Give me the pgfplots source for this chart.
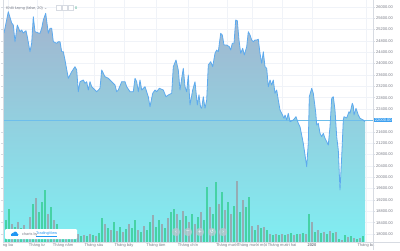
\documentclass[border=0pt]{standalone}
\usepackage{pgfplots}
\pgfplotsset{compat=1.18}
\usepackage{fontspec}
\setmainfont{Liberation Sans}
\newfontfamily\dejavu{DejaVu Sans}
\definecolor{fillTop}{RGB}{163,180,206}
\definecolor{fillBot}{RGB}{128,238,242}
\definecolor{lineCol}{RGB}{93,170,238}
\definecolor{priceLine}{RGB}{110,190,235}
\definecolor{priceBox}{RGB}{60,160,240}
\definecolor{volGreen}{RGB}{70,210,165}
\definecolor{volGray}{RGB}{150,172,180}
\definecolor{gridCol}{RGB}{240,243,248}
\definecolor{borderCol}{RGB}{215,219,226}
\definecolor{labCol}{RGB}{120,123,134}
\definecolor{tvBlue}{RGB}{33,150,243}
\definecolor{btnCol}{RGB}{190,200,210}
\begin{document}
\begin{tikzpicture}[x=1pt,y=1pt]
\begin{axis}[
  at={(3pt,8pt)}, anchor=south west,
  scale only axis, width=370pt, height=242pt,
  xmin=3, xmax=373, ymin=17720, ymax=26236,
  enlargelimits=false,
  axis line style={draw=none},
  grid=major, major grid style={draw=gridCol, line width=0.4pt},
  scaled y ticks=false, scaled x ticks=false,
  /pgf/number format/fixed, /pgf/number format/fixed zerofill,
  /pgf/number format/precision=2, /pgf/number format/1000 sep={},
  /pgf/number format/assume math mode=true,
  ytick={18000,18400,18800,19200,19600,20000,20400,20800,21200,21600,22400,22800,23200,23600,24000,24400,24800,25200,25600,26000},
  yticklabel pos=right,
  tick align=outside, major tick length=2pt,
  ytick style={draw=borderCol, line width=0.4pt},
  yticklabel style={font=\fontsize{4}{5}\selectfont, text=labCol, inner sep=1pt},
  extra y ticks={22000},
  extra y tick style={grid=none, ytick style={draw=none},
    yticklabel style={fill=priceBox, text=white, inner sep=0.7pt, xshift=-1pt}},
  xtick={8,37,63,94,124,156,188,227,252,282,312,366},
  xticklabels={ng ba,Tháng tư,Tháng năm,Tháng sáu,Tháng bảy,Tháng tám,Tháng chín,Tháng mười,Tháng mười một,Tháng mười hai,\textbf{2020},Tháng ba},
  xtick style={draw=none},
  xticklabel style={font=\fontsize{4}{5}\selectfont, text=labCol, inner sep=0.5pt, yshift=1pt},
]
\addplot[draw=none, top color=fillTop, bottom color=fillBot] coordinates {
(4,17720)
(4,25075) (8.3,25824) (11.7,25427) (13.3,25356) (15,24769) (17.3,25356) (20,25121) (21.7,25180) (23.3,25075) (26,25156) (27.3,24945) (30,24417) (31.7,24723) (33.3,25648) (35,25121) (38.3,25075) (40,25064) (41.7,25240) (43.3,25532) (45.7,25768) (48.3,25064) (50,25240) (51.7,25240) (53.3,24769) (56.7,24712) (58.3,24769) (60,24769) (61.7,24417) (63.3,24417) (65,24125) (68.3,23481) (71.7,23713) (75,23889) (76.7,23773) (78.3,23009) (80,23361) (83.3,23421) (85,23305) (86.7,23361) (88.3,23069) (90,23361) (91.7,23185) (93.3,23129) (96.7,23009) (100,23129) (101.7,23773) (105,23537) (108.3,23481) (111.7,23361) (115,23245) (116.7,23009) (118.3,23069) (121.7,23361) (125,23361) (126.7,23185) (130,23009) (133.3,23009) (135,23481) (136.7,23361) (138.3,23009) (140,23421) (141.7,23069) (145,23185) (148.3,22833) (150,22481) (152.7,22953) (155,23069) (156.7,23009) (159.3,23129) (163.3,23069) (166,22833) (168.3,22893) (171.7,22953) (173.3,23889) (176,24125) (178.3,23773) (180,23069) (181.7,23481) (183.3,23833) (185,23185) (186.7,23009) (188.3,23597) (190,22541) (192.7,23069) (195,23361) (197.3,22541) (199,22900) (200.5,22481) (201.7,22425) (203.3,22833) (205,22425) (206.7,22717) (208.3,23949) (210.7,24065) (212.7,23889) (215,24360) (216.7,24476) (218.3,24417) (220.7,25064) (222.3,25004) (224,24652) (226.7,24652) (229.3,24593) (230.7,24476) (232.3,24712) (234,24712) (235.7,25532) (237.3,25508) (239,24828) (240.7,24360) (242.7,24536) (244.3,24301) (246.7,24593) (248.3,25121) (250,25004) (251.7,24828) (253.3,24769) (255,24828) (256.7,24828) (258.3,24853) (260,24360) (261.7,24008) (263.3,24417) (265,23889) (266.7,23833) (268.3,23185) (270,23421) (271.7,23245) (273.3,23421) (275,22953) (276.7,23069) (278.3,22717) (280,22365) (281.7,22249) (284,22073) (285,22189) (286.7,22013) (288.3,22249) (290,21953) (293.3,22013) (296,22129) (298.3,21897) (300,21777) (303.3,21193) (306.7,20370) (308.3,21204) (309.3,22833) (311.7,23129) (313.3,22953) (315,22481) (315.8,22249) (316.7,21837) (318.3,21897) (320,21545) (321.7,21425) (323.3,21545) (325,21369) (326.7,21250) (328.3,21133) (330,21777) (331.7,22777) (333.3,22833) (335,22365) (336.7,21425) (338.3,20957) (340,19550) (341.7,20722) (343.3,22013) (344,22129) (346.7,22084) (349,22305) (350,22249) (352.3,22601) (353.3,22506) (354,22189) (356,22425) (358.3,22189) (360,22073) (363.3,22013) (365,21953)
(365,17720)} -- cycle;
\end{axis}
\begin{axis}[
  at={(3pt,8pt)}, anchor=south west,
  scale only axis, width=370pt, height=242pt,
  xmin=3, xmax=373, ymin=0, ymax=242,
  enlargelimits=false, hide axis,
]
\addplot[ybar, bar width=1.6pt, bar shift=0pt, fill=volGreen, draw=none] coordinates {
(6,22) (9,33) (15,15) (21,14) (27,12) (33,38) (39,30) (42,40) (45,52) (51,35) (57,18) (63,10) (69,9) (75,7) (81,6) (87,6) (93,7) (99,9) (102,24) (108,14) (114,20) (120,15) (126,13) (132,14) (135,22) (141,10) (147,12) (150,20) (156,15) (159,22) (165,14) (171,30) (174,33) (180,22) (186,26) (192,28) (198,25) (204,22) (207,55) (213,28) (216,60) (222,50) (228,40) (234,36) (240,30) (246,35) (249,45) (255,12) (261,14) (267,12) (273,7) (279,7) (285,7) (291,9) (297,8) (303,9) (309,28) (315,10) (321,9) (327,8) (333,9) (339,3) (345,7) (351,6) (357,3) (363,6)};
\addplot[ybar, bar width=1.6pt, bar shift=0pt, fill=volGray, draw=none] coordinates {
(12,18) (18,20) (24,17) (30,25) (36,44) (48,28) (54,22) (60,12) (66,13) (72,11) (78,8) (84,7) (90,8) (96,6) (105,18) (111,12) (117,11) (123,10) (129,18) (138,12) (144,16) (153,27) (162,18) (168,24) (177,28) (183,31) (189,20) (195,18) (201,30) (210,35) (219,38) (225,32) (231,28) (237,61) (243,42) (252,16) (258,17) (264,15) (270,8) (276,8) (282,8) (288,8) (294,7) (300,8) (306,8) (312,20) (318,12) (324,10) (330,11) (336,10) (342,2) (348,5) (354,4) (360,4)};
\end{axis}
\begin{axis}[
  at={(3pt,8pt)}, anchor=south west,
  scale only axis, width=370pt, height=242pt,
  xmin=3, xmax=373, ymin=17720, ymax=26236,
  enlargelimits=false, hide axis,
]
\addplot[priceLine, line width=0.5pt] coordinates {(3,22000) (373,22000)};
\addplot[lineCol, line width=0.8pt, line join=round] coordinates {
(4,25075) (8.3,25824) (11.7,25427) (13.3,25356) (15,24769) (17.3,25356) (20,25121) (21.7,25180) (23.3,25075) (26,25156) (27.3,24945) (30,24417) (31.7,24723) (33.3,25648) (35,25121) (38.3,25075) (40,25064) (41.7,25240) (43.3,25532) (45.7,25768) (48.3,25064) (50,25240) (51.7,25240) (53.3,24769) (56.7,24712) (58.3,24769) (60,24769) (61.7,24417) (63.3,24417) (65,24125) (68.3,23481) (71.7,23713) (75,23889) (76.7,23773) (78.3,23009) (80,23361) (83.3,23421) (85,23305) (86.7,23361) (88.3,23069) (90,23361) (91.7,23185) (93.3,23129) (96.7,23009) (100,23129) (101.7,23773) (105,23537) (108.3,23481) (111.7,23361) (115,23245) (116.7,23009) (118.3,23069) (121.7,23361) (125,23361) (126.7,23185) (130,23009) (133.3,23009) (135,23481) (136.7,23361) (138.3,23009) (140,23421) (141.7,23069) (145,23185) (148.3,22833) (150,22481) (152.7,22953) (155,23069) (156.7,23009) (159.3,23129) (163.3,23069) (166,22833) (168.3,22893) (171.7,22953) (173.3,23889) (176,24125) (178.3,23773) (180,23069) (181.7,23481) (183.3,23833) (185,23185) (186.7,23009) (188.3,23597) (190,22541) (192.7,23069) (195,23361) (197.3,22541) (199,22900) (200.5,22481) (201.7,22425) (203.3,22833) (205,22425) (206.7,22717) (208.3,23949) (210.7,24065) (212.7,23889) (215,24360) (216.7,24476) (218.3,24417) (220.7,25064) (222.3,25004) (224,24652) (226.7,24652) (229.3,24593) (230.7,24476) (232.3,24712) (234,24712) (235.7,25532) (237.3,25508) (239,24828) (240.7,24360) (242.7,24536) (244.3,24301) (246.7,24593) (248.3,25121) (250,25004) (251.7,24828) (253.3,24769) (255,24828) (256.7,24828) (258.3,24853) (260,24360) (261.7,24008) (263.3,24417) (265,23889) (266.7,23833) (268.3,23185) (270,23421) (271.7,23245) (273.3,23421) (275,22953) (276.7,23069) (278.3,22717) (280,22365) (281.7,22249) (284,22073) (285,22189) (286.7,22013) (288.3,22249) (290,21953) (293.3,22013) (296,22129) (298.3,21897) (300,21777) (303.3,21193) (306.7,20370) (308.3,21204) (309.3,22833) (311.7,23129) (313.3,22953) (315,22481) (315.8,22249) (316.7,21837) (318.3,21897) (320,21545) (321.7,21425) (323.3,21545) (325,21369) (326.7,21250) (328.3,21133) (330,21777) (331.7,22777) (333.3,22833) (335,22365) (336.7,21425) (338.3,20957) (340,19550) (341.7,20722) (343.3,22013) (344,22129) (346.7,22084) (349,22305) (350,22249) (352.3,22601) (353.3,22506) (354,22189) (356,22425) (358.3,22189) (360,22073) (363.3,22013) (365,21953)};
\end{axis}
% borders
\draw[borderCol, line width=0.4pt] (3,8) -- (3,250);
\draw[borderCol, line width=0.4pt] (3,8) -- (400,8);
\draw[borderCol, line width=0.4pt] (373,0) -- (373,250);
% volume legend
\node[anchor=west, inner sep=0pt, font=\fontsize{3.8}{4.5}\selectfont, text=labCol] at (6,242) {Khối lượng (false, 20)\,\,{\dejavu ⌄}};
\foreach \bx in {56,62,68}{\draw[borderCol, line width=0.3pt, fill=white] (\bx,239.5) rectangle ++(5,5);}
\node[anchor=west, inner sep=0pt, font=\fontsize{3.8}{4.5}\selectfont, text=volGreen!80!black] at (75,242) {0};
% logo
\fill[white, rounded corners=1pt] (5,11) rectangle (77,21);
\fill[tvBlue] (11,14) rectangle (18,15.6);
\fill[tvBlue] (12.5,15.6) circle (1.6);
\fill[tvBlue] (15.2,16.3) circle (2.1);
\fill[tvBlue] (17.2,15.4) circle (1.3);
\node[anchor=west, inner sep=0pt, font=\fontsize{3.8}{4.5}\selectfont, text=labCol] at (22,15.8) {charts by};
\node[anchor=west, inner sep=0pt, font=\fontsize{3.8}{4.5}\selectfont, text=tvBlue] at (36,15.8) {\underline{TradingView}};
% navigation buttons
\foreach \bx/\sym in {176/‹,188/−,200/+,212/↺,223/›}{
  \fill[btnCol, opacity=0.75] (\bx,18) circle (4.2);
  \node[inner sep=0pt, font=\dejavu\fontsize{5}{5}\selectfont, text=white] at (\bx,18.2) {\sym};
}
\pgfresetboundingbox
\path (0,0) rectangle (400,250);
\end{tikzpicture}
\end{document}
